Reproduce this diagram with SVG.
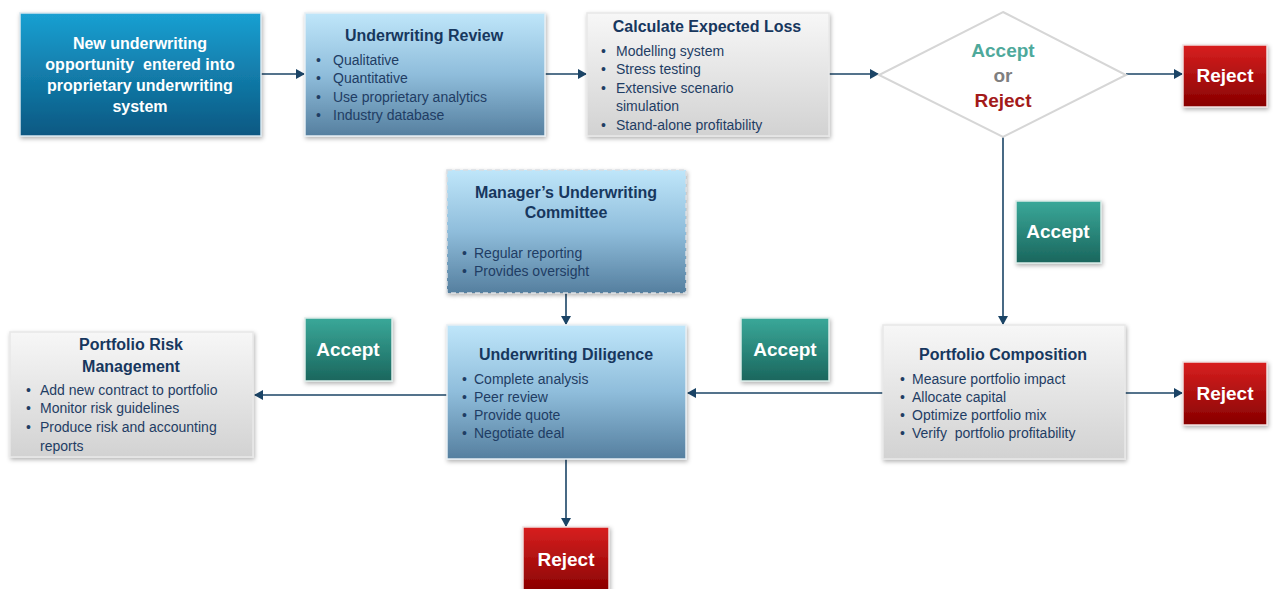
<svg xmlns="http://www.w3.org/2000/svg" width="1273" height="589" viewBox="0 0 1273 589">
<style>
text{white-space:pre;}
.t{font-family:"Liberation Sans",Arial,sans-serif;}
.title{font-family:"Liberation Sans",Arial,sans-serif;font-size:16px;font-weight:bold;fill:#17375e;text-anchor:middle;}
.b{font-family:"Liberation Sans",Arial,sans-serif;font-size:14px;fill:#1f3d64;}
.w{font-family:"Liberation Sans",Arial,sans-serif;font-size:19px;font-weight:bold;fill:#ffffff;text-anchor:middle;}
.wn{font-family:"Liberation Sans",Arial,sans-serif;font-size:16px;font-weight:bold;fill:#ffffff;text-anchor:middle;}
.edge{stroke:#1b4466;stroke-width:1.6;fill:none;marker-end:url(#ah);}
</style>
<defs>
<marker id="ah" markerWidth="10" markerHeight="10" refX="8" refY="5" orient="auto" markerUnits="userSpaceOnUse">
<path d="M0,0 L9,5 L0,10 Z" fill="#1b4466"/>
</marker>
<linearGradient id="gDark" x1="0" y1="0" x2="0" y2="1"><stop offset="0" stop-color="#1aa0d2"/><stop offset="1" stop-color="#0a5882"/></linearGradient>
<linearGradient id="gLight" x1="0" y1="0" x2="0" y2="1"><stop offset="0" stop-color="#bfe6fa"/><stop offset="0.5" stop-color="#8fbddb"/><stop offset="1" stop-color="#557f9f"/></linearGradient>
<linearGradient id="gGray" x1="0" y1="0" x2="0" y2="1"><stop offset="0" stop-color="#f7f7f7"/><stop offset="1" stop-color="#d2d2d2"/></linearGradient>
<linearGradient id="gAcc" x1="0" y1="0" x2="0" y2="1"><stop offset="0" stop-color="#3aa899"/><stop offset="1" stop-color="#1a665d"/></linearGradient>
<linearGradient id="gRej" x1="0" y1="0" x2="0" y2="1"><stop offset="0" stop-color="#d82020"/><stop offset="1" stop-color="#870000"/></linearGradient>
<filter id="sh" x="-10%" y="-10%" width="120%" height="130%"><feDropShadow dx="1" dy="2" stdDeviation="2" flood-color="#000" flood-opacity="0.3"/></filter>
</defs>

<g id="connectors">
<line class="edge" x1="261" y1="74" x2="304" y2="74"/>
<line class="edge" x1="545" y1="74" x2="586" y2="74"/>
<line class="edge" x1="829" y1="74" x2="878" y2="74"/>
<line class="edge" x1="1126" y1="74" x2="1182" y2="74"/>
<line class="edge" x1="1003" y1="137" x2="1003" y2="324"/>
<line class="edge" x1="1125" y1="393" x2="1182" y2="393"/>
<line class="edge" x1="883" y1="393" x2="688" y2="393"/>
<line class="edge" x1="566" y1="293" x2="566" y2="324"/>
<line class="edge" x1="447" y1="395" x2="255" y2="395"/>
<line class="edge" x1="566" y1="459" x2="566" y2="526"/>
</g>

<g id="new-opportunity">
<rect x="20" y="13" width="241" height="123" fill="url(#gDark)" stroke="#d9e6ee" stroke-width="1.5" filter="url(#sh)"/>
<text class="wn" x="140" y="49">New underwriting</text>
<text class="wn" x="140" y="70">opportunity  entered into</text>
<text class="wn" x="140" y="91">proprietary underwriting</text>
<text class="wn" x="140" y="112">system</text>
</g>

<g id="underwriting-review">
<rect x="305" y="13" width="240" height="123" fill="url(#gLight)" stroke="#e6eef3" stroke-width="1.5" filter="url(#sh)"/>
<text class="title" x="424" y="41">Underwriting Review</text>
<text class="b" x="316" y="65">•</text><text class="b" x="333" y="65">Qualitative</text>
<text class="b" x="316" y="83">•</text><text class="b" x="333" y="83">Quantitative</text>
<text class="b" x="316" y="102">•</text><text class="b" x="333" y="102">Use proprietary analytics</text>
<text class="b" x="316" y="120">•</text><text class="b" x="333" y="120">Industry database</text>
</g>

<g id="expected-loss">
<rect x="587" y="13" width="242" height="123" fill="url(#gGray)" stroke="#e8e8e8" stroke-width="1.5" filter="url(#sh)"/>
<text class="title" x="707" y="32">Calculate Expected Loss</text>
<text class="b" x="601" y="56">•</text><text class="b" x="616" y="56">Modelling system</text>
<text class="b" x="601" y="74">•</text><text class="b" x="616" y="74">Stress testing</text>
<text class="b" x="601" y="93">•</text><text class="b" x="616" y="93">Extensive scenario</text>
<text class="b" x="616" y="111">simulation</text>
<text class="b" x="601" y="130">•</text><text class="b" x="616" y="130">Stand-alone profitability</text>
</g>

<g id="decision">
<polygon points="1003,12 1126,75 1003,137 879,75" fill="#ffffff" stroke="#d6d6d6" stroke-width="2"/>
<text class="t" x="1003" y="57" font-size="19" font-weight="bold" fill="#4ea99b" text-anchor="middle">Accept</text>
<text class="t" x="1003" y="82" font-size="19" font-weight="bold" fill="#7f7f7f" text-anchor="middle">or</text>
<text class="t" x="1003" y="107" font-size="19" font-weight="bold" fill="#a31a1a" text-anchor="middle">Reject</text>
</g>

<g id="reject-top">
<rect x="1183" y="45" width="84" height="62" fill="url(#gRej)" stroke="#f0e0e0" stroke-width="1.5" filter="url(#sh)"/>
<text class="w" x="1225" y="82">Reject</text>
</g>

<g id="accept-right">
<rect x="1016" y="201" width="85" height="62" fill="url(#gAcc)" stroke="#dcebe8" stroke-width="1.5" filter="url(#sh)"/>
<text class="w" x="1058" y="238">Accept</text>
</g>

<g id="portfolio-composition">
<rect x="883" y="325" width="242" height="134" fill="url(#gGray)" stroke="#e8e8e8" stroke-width="1.5" filter="url(#sh)"/>
<text class="title" x="1003" y="360">Portfolio Composition</text>
<text class="b" x="900" y="384">•</text><text class="b" x="912" y="384">Measure portfolio impact</text>
<text class="b" x="900" y="402">•</text><text class="b" x="912" y="402">Allocate capital</text>
<text class="b" x="900" y="420">•</text><text class="b" x="912" y="420">Optimize portfolio mix</text>
<text class="b" x="900" y="438">•</text><text class="b" x="912" y="438">Verify  portfolio profitability</text>
</g>

<g id="reject-mid">
<rect x="1183" y="362" width="84" height="63" fill="url(#gRej)" stroke="#f0e0e0" stroke-width="1.5" filter="url(#sh)"/>
<text class="w" x="1225" y="400">Reject</text>
</g>

<g id="accept-mid">
<rect x="741" y="318" width="88" height="63" fill="url(#gAcc)" stroke="#dcebe8" stroke-width="1.5" filter="url(#sh)"/>
<text class="w" x="785" y="356">Accept</text>
</g>

<g id="managers-committee">
<rect x="447" y="170" width="239" height="123" fill="url(#gLight)" stroke="#d8dde2" stroke-width="1.5" stroke-dasharray="5,3" filter="url(#sh)"/>
<text class="title" x="566" y="198">Manager’s Underwriting</text>
<text class="title" x="566" y="218">Committee</text>
<text class="b" x="462" y="258">•</text><text class="b" x="474" y="258">Regular reporting</text>
<text class="b" x="462" y="276">•</text><text class="b" x="474" y="276">Provides oversight</text>
</g>

<g id="underwriting-diligence">
<rect x="447" y="325" width="239" height="134" fill="url(#gLight)" stroke="#e6eef3" stroke-width="1.5" filter="url(#sh)"/>
<text class="title" x="566" y="360">Underwriting Diligence</text>
<text class="b" x="462" y="384">•</text><text class="b" x="474" y="384">Complete analysis</text>
<text class="b" x="462" y="402">•</text><text class="b" x="474" y="402">Peer review</text>
<text class="b" x="462" y="420">•</text><text class="b" x="474" y="420">Provide quote</text>
<text class="b" x="462" y="438">•</text><text class="b" x="474" y="438">Negotiate deal</text>
</g>

<g id="accept-left">
<rect x="305" y="318" width="87" height="63" fill="url(#gAcc)" stroke="#dcebe8" stroke-width="1.5" filter="url(#sh)"/>
<text class="w" x="348" y="356">Accept</text>
</g>

<g id="portfolio-risk">
<rect x="10" y="332" width="243" height="125" fill="url(#gGray)" stroke="#e8e8e8" stroke-width="1.5" filter="url(#sh)"/>
<text class="title" x="131" y="350">Portfolio Risk</text>
<text class="title" x="131" y="372">Management</text>
<text class="b" x="26" y="395">•</text><text class="b" x="40" y="395">Add new contract to portfolio</text>
<text class="b" x="26" y="413">•</text><text class="b" x="40" y="413">Monitor risk guidelines</text>
<text class="b" x="26" y="432">•</text><text class="b" x="40" y="432">Produce risk and accounting</text>
<text class="b" x="40" y="451">reports</text>
</g>

<g id="reject-bottom">
<rect x="523" y="527" width="86" height="66" fill="url(#gRej)" stroke="#f0e0e0" stroke-width="1.5" filter="url(#sh)"/>
<text class="w" x="566" y="566">Reject</text>
</g>
</svg>
